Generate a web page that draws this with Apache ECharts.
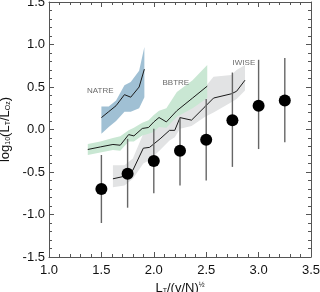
<!DOCTYPE html>
<html>
<head>
<meta charset="utf-8">
<script src="https://cdn.jsdelivr.net/npm/echarts@6/dist/echarts.min.js"></script>
<style>html,body{margin:0;padding:0;background:#fff}#c{width:320px;height:292px}</style>
</head>
<body>
<div id="c"></div>
<script>
// ---- data ----
const xTickLabels = ['1.0','1.5','2.0','2.5','3.0','3.5'];
const yTickLabels = ['-1.5','-1.0','-0.5','0.0','0.5','1.0','1.5'];

const binX    = [1.50, 1.75, 2.00, 2.25, 2.50, 2.75, 3.00, 3.25];
const binMean = [-0.70, -0.52, -0.37, -0.25, -0.12, 0.11, 0.28, 0.34];
const binLow  = [-1.10, -0.92, -0.75, -0.66, -0.60, -0.44, -0.23, -0.15];
const binHigh = [-0.30, -0.11, 0.01, 0.14, 0.36, 0.67, 0.82, 0.84];

const natreX   = [1.50, 1.57, 1.64, 1.72, 1.78, 1.86, 1.91];
const natreMid = [0.14, 0.21, 0.28, 0.41, 0.38, 0.50, 0.71];
const natreHi  = [0.27, 0.27, 0.34, 0.52, 0.56, 0.69, 0.97];
const natreLo  = [-0.05, 0.03, 0.10, 0.21, 0.21, 0.25, 0.38];

const bbtreX   = [1.37, 1.49, 1.61, 1.68, 1.76, 1.81, 1.89, 1.95, 2.00, 2.05, 2.12, 2.22, 2.37, 2.51];
const bbtreMid = [-0.235, -0.205, -0.176, -0.185, -0.06, -0.075, 0.012, 0.024, 0.089, 0.141, 0.089, 0.221, 0.37, 0.51];
const bbtreHi  = [-0.17, -0.14, -0.10, -0.08, -0.01, 0.02, 0.08, 0.11, 0.17, 0.22, 0.25, 0.44, 0.58, 0.76];
const bbtreLo  = [-0.30, -0.27, -0.24, -0.25, -0.14, -0.14, -0.07, -0.05, -0.03, 0.03, 0.02, 0.15, 0.25, 0.37];

const iwiseX   = [1.61, 1.72, 1.80, 1.90, 1.96, 2.06, 2.15, 2.20, 2.25, 2.36, 2.49, 2.57, 2.74, 2.79, 2.87];
const iwiseMid = [-0.58, -0.55, -0.48, -0.22, -0.21, -0.11, -0.01, -0.01, 0.14, 0.11, 0.27, 0.37, 0.42, 0.45, 0.58];
const iwiseHi  = [-0.42, -0.42, -0.34, -0.05, 0.03, 0.12, 0.21, 0.24, 0.28, 0.31, 0.50, 0.62, 0.64, 0.70, 0.76];
const iwiseLo  = [-0.68, -0.66, -0.58, -0.40, -0.36, -0.24, -0.13, -0.09, 0.01, 0.04, 0.15, 0.20, 0.32, 0.36, 0.46];

const labelNames = ['NATRE', 'BBTRE', 'IWISE'];
const labelX = [1.49, 2.21, 2.86];
const labelY = [0.45, 0.555, 0.78];

// ---- helpers ----
function zip2(a, b) { return a.map((v, i) => [v, b[i]]); }
function bandSeries(xs, lo, hi, color, z) {
  return {
    type: 'custom', z: z, silent: true, xAxisIndex: 0, yAxisIndex: 0,
    data: xs.map((x, i) => [x, lo[i], hi[i]]),
    renderItem: function (params, api) {
      if (params.dataIndex !== 0) return null;
      const pts = [];
      for (let i = 0; i < xs.length; i++) pts.push(api.coord([xs[i], hi[i]]));
      for (let i = xs.length - 1; i >= 0; i--) pts.push(api.coord([xs[i], lo[i]]));
      return { type: 'polygon', shape: { points: pts }, style: { fill: color, stroke: null } };
    }
  };
}
function lineSeries(xs, ys, z) {
  return {
    type: 'line', z: z, data: zip2(xs, ys), showSymbol: false, symbol: 'none', silent: true,
    lineStyle: { color: '#1a1a1a', width: 1 }
  };
}

const axisCol = '#555';
const TXT = '#111';
const FONT = "'Liberation Sans', Arial, sans-serif";

function xAx(pos, minor) {
  return {
    type: 'value', min: 1.0, max: 3.5, interval: minor ? 0.1 : 0.5, position: pos,
    axisLine: { show: !minor, onZero: false, lineStyle: { color: axisCol, width: 1 } },
    axisTick: { show: true, inside: true, length: minor ? 3 : 5, lineStyle: { color: axisCol } },
    axisLabel: { show: false },
    splitLine: { show: false }
  };
}
function yAx(pos, minor) {
  return {
    type: 'value', min: -1.5, max: 1.5, interval: minor ? 0.1 : 0.5, position: pos,
    axisLine: { show: !minor, onZero: false, lineStyle: { color: axisCol, width: 1 } },
    axisTick: { show: true, inside: true, length: minor ? 3 : 5, lineStyle: { color: axisCol } },
    axisLabel: { show: false },
    splitLine: { show: false }
  };
}

const xMain = xAx('bottom', false);
xMain.axisLabel = { show: true, color: TXT, fontSize: 13, fontFamily: FONT, margin: 7,
  formatter: (v) => xTickLabels[Math.round((v - 1.0) / 0.5)] };
xMain.name = 'L{sub|T}/(v/N){sup|½}';
xMain.nameLocation = 'middle';
xMain.nameGap = 23;
xMain.nameTextStyle = { color: TXT, fontSize: 13, fontFamily: FONT,
  rich: { sub: { fontSize: 7, verticalAlign: 'bottom', padding: [6, 0, 0, 0], fontFamily: FONT, color: TXT },
          sup: { fontSize: 7, verticalAlign: 'top', padding: [0, 0, 6, 0], fontFamily: FONT, color: TXT } } };

const yMain = yAx('left', false);
yMain.axisLabel = { show: true, color: TXT, fontSize: 13, fontFamily: FONT, margin: 4,
  formatter: (v) => yTickLabels[Math.round((v + 1.5) / 0.5)] };
yMain.name = 'log{sub|10}(L{sub|T}/L{sub|Oz})';
yMain.nameLocation = 'middle';
yMain.nameGap = 35;
yMain.nameRotate = 90;
yMain.nameTextStyle = { color: TXT, fontSize: 13, fontFamily: FONT,
  rich: { sub: { fontSize: 7, verticalAlign: 'bottom', padding: [6, 0, 0, 0], fontFamily: FONT, color: TXT } } };

const chart = echarts.init(document.getElementById('c'), null, { renderer: 'canvas' });
chart.setOption({
  animation: false,
  backgroundColor: '#fff',
  grid: { left: 49, right: 9, top: 2, bottom: 35, containLabel: false, outerBoundsMode: 'none' },
  xAxis: [xMain, xAx('top', false), xAx('bottom', true), xAx('top', true)],
  yAxis: [yMain, yAx('right', false), yAx('left', true), yAx('right', true)],
  series: [
    bandSeries(iwiseX, iwiseLo, iwiseHi, '#e2e3e4', 1),
    bandSeries(bbtreX, bbtreLo, bbtreHi, '#c9e7d3', 2),
    bandSeries(natreX, natreLo, natreHi, '#a0c0d4', 3),
    lineSeries(iwiseX, iwiseMid, 4),
    lineSeries(bbtreX, bbtreMid, 4),
    lineSeries(natreX, natreMid, 4),
    {
      type: 'custom', z: 5, silent: true,
      data: binX.map((x, i) => [x, binLow[i], binHigh[i]]),
      renderItem: function (params, api) {
        const p1 = api.coord([api.value(0), api.value(1)]);
        const p2 = api.coord([api.value(0), api.value(2)]);
        return { type: 'line', shape: { x1: p1[0], y1: p1[1], x2: p2[0], y2: p2[1] },
          style: { stroke: '#666', lineWidth: 1.4 } };
      }
    },
    {
      type: 'scatter', z: 6, silent: true, data: zip2(binX, binMean),
      symbol: 'circle', symbolSize: 12, itemStyle: { color: '#000', opacity: 1 }
    },
    {
      type: 'scatter', z: 7, silent: true, symbolSize: 0,
      data: labelNames.map((n, i) => ({ name: n, value: [labelX[i], labelY[i]] })),
      label: { show: true, position: 'inside', formatter: '{b}', color: '#444', fontSize: 8, fontFamily: FONT }
    }
  ]
});
</script>
</body>
</html>
